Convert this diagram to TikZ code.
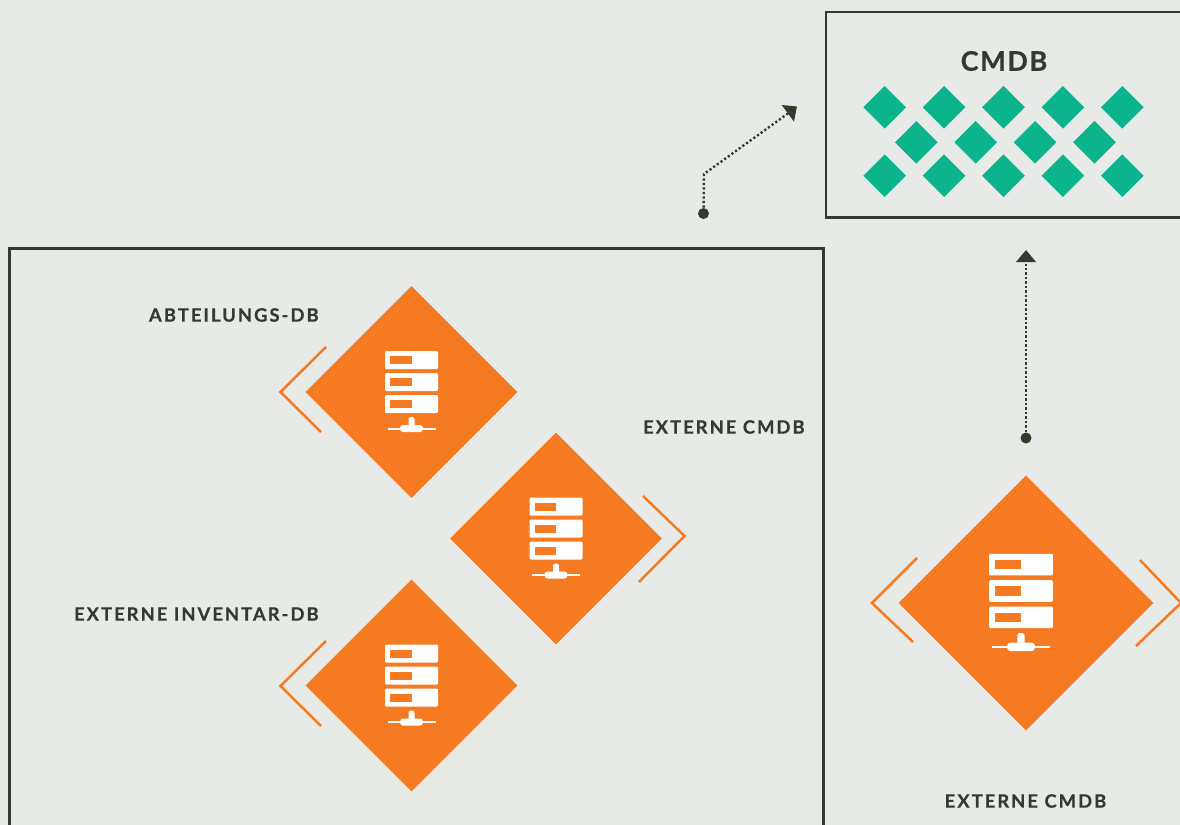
\documentclass[tikz,border=0pt]{standalone}
\usepackage{fontspec}
\setmainfont{Lato}
\usetikzlibrary{shapes.geometric,arrows.meta}
\definecolor{bgcol}{HTML}{E8EAE7}
\definecolor{darkcol}{HTML}{333A2E}
\definecolor{orangecol}{HTML}{F57A21}
\definecolor{greencol}{HTML}{0BB48C}
\newfontfamily\labelfont[LetterSpace=11,FakeBold=0.5]{Lato Bold}
\newfontfamily\titlefont[LetterSpace=6,FakeBold=0.6]{Lato Bold}
\tikzset{
  serverpic/.pic={
    \foreach \rowy in {-41, -19, 3} {
      \fill[white,rounded corners=0.6pt] (-26.5, \rowy) rectangle (26.5, \rowy+18);
      \fill[orangecol] (-21.5, \rowy+5) rectangle (0, \rowy+13);
    }
    \fill[white] (-24, 35.7) rectangle (24, 37.7);
    \fill[white,rounded corners=1.5pt] (-11.5, 33) rectangle (11.5, 40);
    \fill[white,rounded corners=1.2pt] (-3, 25) rectangle (3, 36);
  }
}
\begin{document}
\begin{tikzpicture}[x=0.5pt,y=-0.5pt]
	\tikzstyle{frame}=[draw=darkcol,line width=1.45pt,shape=rectangle,inner sep=0pt];
	\tikzstyle{orangedia}=[fill=orangecol,shape=diamond,aspect=1,inner sep=0pt];
	\tikzstyle{greendia}=[fill=greencol,shape=diamond,aspect=1,inner sep=0pt,minimum size=21.5pt];
	\tikzstyle{chevron}=[draw=orangecol,line width=1.25pt];
	\tikzstyle{dot}=[fill=darkcol,shape=circle,inner sep=0pt,minimum size=5.5pt];
	\tikzstyle{link}=[draw=darkcol,line width=1.2pt,dash pattern=on 1.1pt off 1.15pt];
	\tikzstyle{boxlabel}=[text=darkcol,font=\labelfont\fontsize{9.2}{11}\selectfont,inner sep=0pt];

    \useasboundingbox (0, 0) rectangle (1180, 825);
    \fill[bgcol] (0, 0) rectangle (1180, 825);
    \clip (0, 0) rectangle (1180, 825);

    \node at (1018, 114.75) (cmdbbox) [frame,minimum width=192pt,minimum height=102.75pt] {};
    \node at (416.5, 554.25) (innerbox) [frame,minimum width=407pt,minimum height=305.75pt] {};

    \node at (1004, 61) (cmdb) [text=darkcol,font=\titlefont\fontsize{13.5}{15}\selectfont,inner sep=0pt] {CMDB};
    \foreach \i in {0,...,4} {
        \node at (884.7+59.4*\i, 107.3) (top\i) [greendia] {};
        \node at (884.7+59.4*\i, 175.7) (bot\i) [greendia] {};
    }
    \foreach \i in {0,...,3}
        \node at (916.3+59.4*\i, 142.3) (mid\i) [greendia] {};

    \node at (411.5, 392) (abteilung) [orangedia,minimum size=106pt] {};
    \node at (556, 538.5) (extern) [orangedia,minimum size=106pt] {};
    \node at (411.5, 685.5) (inventar) [orangedia,minimum size=106pt] {};
    \node at (1026, 603) (externright) [orangedia,minimum size=127.5pt] {};

    \pic at (abteilung) {serverpic};
    \pic at (extern) {serverpic};
    \pic at (inventar) {serverpic};
    \pic[scale=1.2] at (1021, 603) {serverpic};

    \draw[chevron] (326, 347) -- (280.5, 392) -- (321, 432);
    \draw[chevron] (643, 496) -- (684.5, 536) -- (639, 582);
    \draw[chevron] (326, 641) -- (280.5, 686) -- (321, 726);
    \draw[chevron] (917, 558) -- (872, 603) -- (913, 642);
    \draw[chevron] (1140, 560) -- (1181, 603) -- (1136, 646);

    \node at (319, 315) (lababt) [boxlabel,anchor=east] {ABTEILUNGS-DB};
    \node at (805, 427) (labext) [boxlabel,anchor=east] {EXTERNE CMDB};
    \node at (319, 614) (labinv) [boxlabel,anchor=east] {EXTERNE INVENTAR-DB};
    \node at (1025.5, 801) (labright) [boxlabel] {EXTERNE CMDB};

    \node at (703.5, 213.5) (start1) [dot] {};
    \node at (1026, 438) (start2) [dot] {};
    \coordinate (bend1) at (704, 174);
    \coordinate (tip1) at (790, 112);
    \coordinate (tip2) at (1026, 264);
    \coordinate (head2) at (1026, 250);

    \draw[link] (start1) -- (bend1) -- (tip1);
    \draw[link] (start2) -- (tip2);
    \fill[darkcol] (781.7, 105) -- (796.9, 106.5) -- (794, 121.7) -- cycle;
    \fill[darkcol] (1016, 262) -- (head2) -- (1036, 262) -- cycle;
\end{tikzpicture}
\end{document}
